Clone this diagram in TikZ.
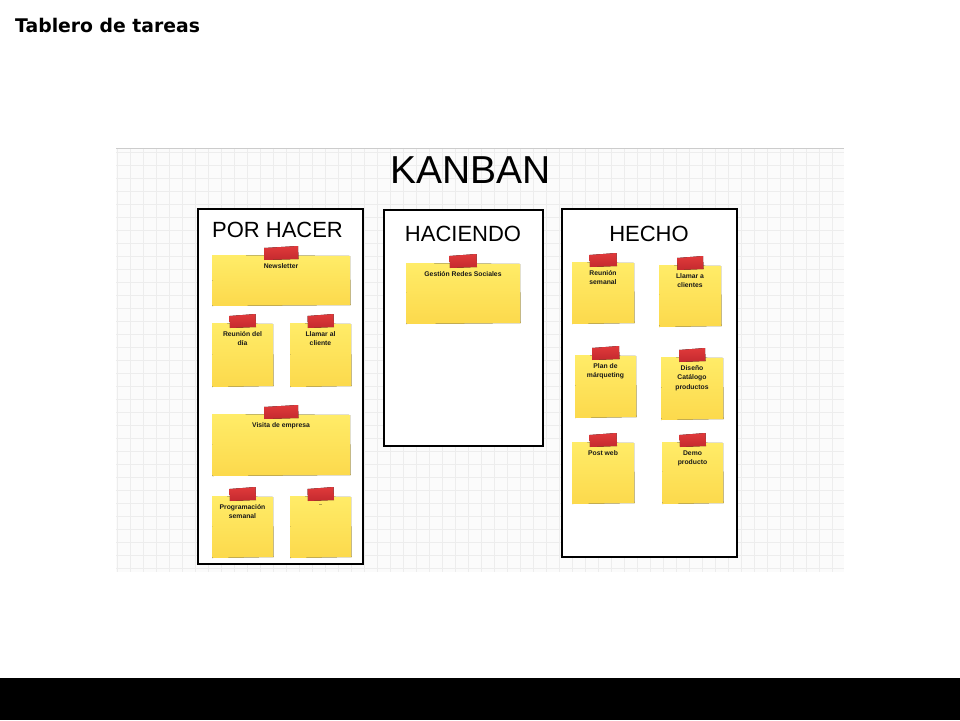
\documentclass[tikz,border=0pt]{standalone}
\usepackage{fontspec}
\setmainfont{Liberation Sans}
\newfontfamily\titlefont{DejaVu Sans}
\definecolor{gridc}{HTML}{EDEDED}
\definecolor{boardbg}{HTML}{FBFBFB}
\definecolor{stickytop}{HTML}{FFEC68}
\definecolor{stickybot}{HTML}{FCD94C}
\definecolor{tapec}{HTML}{E0393B}
\definecolor{tapedark}{HTML}{C42A2E}
\tikzset{
  colbox/.style={draw=black, line width=1.4pt, fill=white},
  coltitle/.style={font=\fontsize{22}{24}\selectfont, inner sep=0pt, anchor=base},
  stickytext/.style={font=\bfseries\fontsize{6.8}{9.2}\selectfont, align=center, inner sep=0pt, anchor=north, text=black!90},
  stickyfill/.style={top color=stickytop, bottom color=stickybot, draw=none},
  tapefill/.style={top color=tapec, bottom color=tapedark, draw=none},
  gridline/.style={draw=gridc, line width=0.5pt},
}
% \sticky{name}{x1}{y1}{x2}{y2}{tape half width}{text}
\newcommand\sticky[7]{%
  \fill[stickyfill] (#2,#3) -- (#4,{#3+1}) -- ({#4+0.5},#5) -- ({#2+0.5},{#5+1}) -- cycle;
  \fill[tapefill] ({(#2+#4)/2-#6},{#3-7}) -- ({(#2+#4)/2+#6},{#3-9}) -- ({(#2+#4)/2+#6+0.5},{#3+4}) -- ({(#2+#4)/2-#6+0.5},{#3+5}) -- cycle;
  \node[stickytext] (#1) at ({(#2+#4)/2},{#3+8.5}) {#7};
}
\begin{document}
\begin{tikzpicture}[x=1pt,y=-1pt]
\useasboundingbox (0,0) rectangle (960,720);
\fill[white] (0,0) rectangle (960,720);
% title
\node[font=\titlefont\bfseries\fontsize{18.8}{20}\selectfont, anchor=base west, inner sep=0pt] (title) at (15,32) {Tablero de tareas};
% black bar
\fill[black] (0,678) rectangle (960,720);
% board
\fill[boardbg] (116,148) rectangle (844,572);
\foreach \gx in {117,130,...,844} {\draw[gridline] (\gx,148) -- (\gx,572);}
\foreach \gy in {152,165,...,572} {\draw[gridline] (116,\gy) -- (844,\gy);}
\draw[black!20, line width=1pt] (116,148) -- (844,148);
\node[font=\fontsize{39}{40}\selectfont, anchor=base, inner sep=0pt] (kanban) at (470.5,183.5) {KANBAN};
% columns
\draw[colbox] (198,209) rectangle (363,564);
\node[coltitle] (porhacer) at (277.5,237) {POR HACER};
\draw[colbox] (384,210) rectangle (543,446);
\node[coltitle] (haciendo) at (463,241) {HACIENDO};
\draw[colbox] (562,209) rectangle (737,557);
\node[coltitle] (hecho) at (649,241) {HECHO};
% POR HACER stickies
\sticky{s1}{212}{255}{350}{305}{17}{Newsletter}
\sticky{s2}{212}{323}{273}{386}{13}{Reunión del\\día}
\sticky{s3}{290}{323}{351}{386}{13}{Llamar al\\cliente}
\sticky{s4}{212}{414}{350}{475}{17}{Visita de empresa}
\sticky{s5}{212}{496}{273}{557}{13}{Programación\\semanal}
\sticky{s6}{290}{496}{351}{557}{13}{{\fontsize{4}{5}\selectfont ...}}
% HACIENDO
\sticky{s7}{406}{263}{520}{323}{13.5}{Gestión Redes Sociales}
% HECHO
\sticky{s8}{572}{262}{634}{323}{13.5}{Reunión\\semanal}
\sticky{s9}{659}{265}{721}{326}{13}{Llamar a\\clientes}
\sticky{s10}{575}{355}{636}{417}{13.5}{Plan de\\márqueting}
\sticky{s11}{661}{357}{723}{419}{13}{Diseño\\Catálogo\\productos}
\sticky{s12}{572}{442}{634}{503}{13.5}{Post web}
\sticky{s13}{662}{442}{723}{503}{13}{Demo\\producto}
\end{tikzpicture}
\end{document}
